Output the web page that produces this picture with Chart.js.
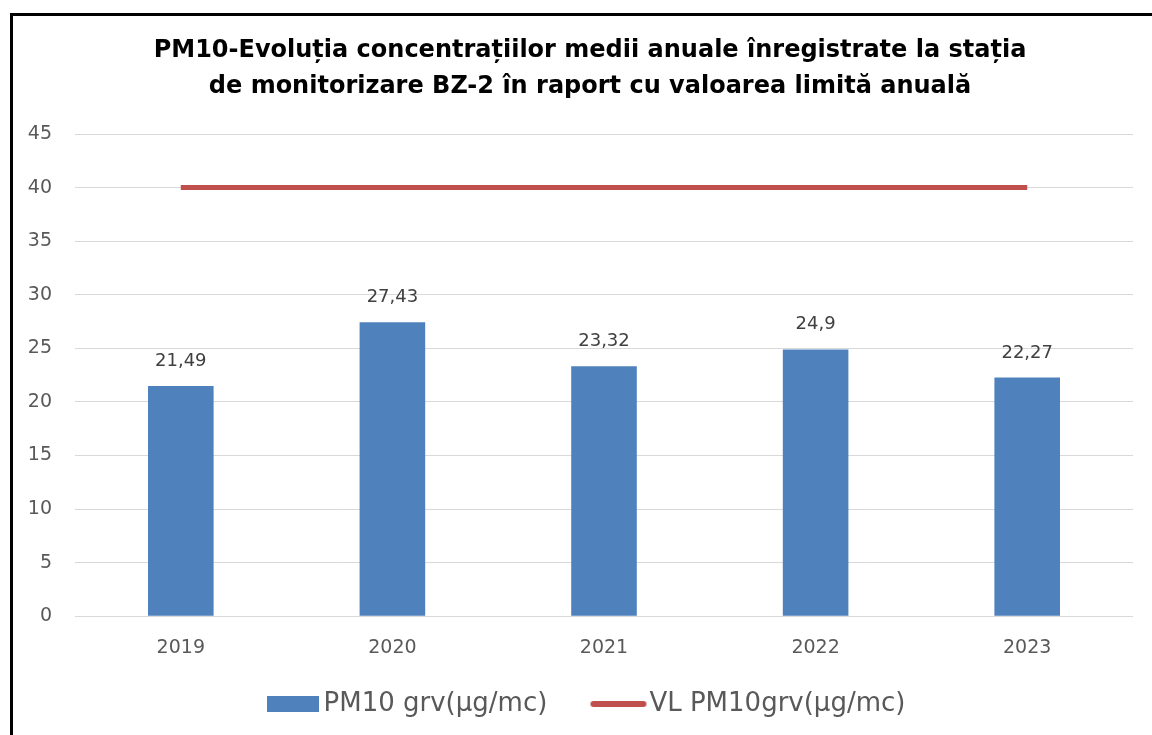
<!DOCTYPE html>
<html>
<head>
<meta charset="utf-8">
<script src="https://cdn.jsdelivr.net/npm/chart.js@4"></script>
<style>
  body { margin: 0; background: #fff; overflow: hidden; }
  #frame { position: absolute; left: 10px; top: 13px; width: 1300px; height: 900px; border: 3px solid #000; }
  #wrap { position: absolute; left: 0; top: 0; width: 1152px; height: 735px; }
</style>
</head>
<body>
<div id="frame"></div>
<div id="wrap"><canvas id="canvas"></canvas></div>
<script>
var years = ['2019', '2020', '2021', '2022', '2023'];
var pm10 = [21.49, 27.43, 23.32, 24.9, 22.27];
var limitValue = [40, 40, 40, 40, 40];
var yTicks = [0, 5, 10, 15, 20, 25, 30, 35, 40, 45];

var fontName = '"DejaVu Sans", sans-serif';
var blue = '#4F81BD';
var red = '#C0504D';

// simboluri pentru legenda (mai late decat caseta, ca textul sa stea aproape)
function makeRect() {
  var c = document.createElement('canvas');
  c.width = 52; c.height = 16;
  var g = c.getContext('2d');
  g.fillStyle = blue;
  g.fillRect(0, 0, 52, 16);
  return c;
}
function makeLine() {
  var c = document.createElement('canvas');
  c.width = 58; c.height = 8;
  var g = c.getContext('2d');
  g.strokeStyle = red;
  g.lineWidth = 6;
  g.lineCap = 'round';
  g.beginPath();
  g.moveTo(4, 4);
  g.lineTo(54, 4);
  g.stroke();
  return c;
}
var rectImg = makeRect();
var lineImg = makeLine();

// etichete deasupra barelor, cu virgula zecimala
var barLabels = {
  id: 'barLabels',
  afterDatasetsDraw: function(chart) {
    var ctx = chart.ctx;
    var meta = chart.getDatasetMeta(1);
    ctx.save();
    ctx.font = '18px ' + fontName;
    ctx.fillStyle = '#404040';
    ctx.textAlign = 'center';
    ctx.textBaseline = 'alphabetic';
    meta.data.forEach(function(bar, i) {
      ctx.fillText(String(pm10[i]).replace('.', ','), bar.x, bar.y - 20);
    });
    ctx.restore();
  }
};

window.onload = function() {
  var ctx = document.getElementById('canvas').getContext('2d');
  window.myChart = new Chart(ctx, {
    type: 'bar',
    data: {
      labels: years,
      datasets: [{
        type: 'line',
        label: 'VL PM10grv(µg/mc)',
        data: limitValue,
        borderColor: red,
        backgroundColor: red,
        borderWidth: 5,
        pointRadius: 0,
        order: 0
      }, {
        label: 'PM10 grv(µg/mc)',
        data: pm10,
        backgroundColor: blue,
        categoryPercentage: 0.31,
        barPercentage: 1,
        order: 1
      }]
    },
    options: {
      responsive: true,
      maintainAspectRatio: false,
      animation: false,
      layout: { padding: { top: 33, right: 0, bottom: 8, left: 28 } },
      plugins: {
        title: {
          display: true,
          text: ['PM10-Evoluția concentrațiilor medii anuale înregistrate la stația', 'de monitorizare BZ-2 în raport cu valoarea limită anuală'],
          color: '#000',
          font: { family: fontName, size: 24, weight: 'bold', lineHeight: 1.5 },
          padding: { top: 0, bottom: 29 }
        },
        legend: {
          position: 'bottom',
          reverse: true,
          labels: {
            color: '#595959',
            font: { family: fontName, size: 26 },
            usePointStyle: true,
            pointStyleWidth: 36,
            boxHeight: 16,
            padding: 20,
            generateLabels: function(chart) {
              var items = Chart.defaults.plugins.legend.labels.generateLabels(chart);
              items.forEach(function(it) {
                var ds = chart.data.datasets[it.datasetIndex];
                if (ds.type === 'line') {
                  it.pointStyle = lineImg;
                } else {
                  it.pointStyle = rectImg;
                  it.text = it.text + '    ';
                }
              });
              return items;
            }
          }
        },
        tooltip: { enabled: false }
      },
      scales: {
        x: {
          grid: { display: false },
          border: { display: false },
          ticks: { color: '#595959', font: { family: fontName, size: 19 }, padding: 12 }
        },
        y: {
          min: 0,
          max: 45,
          afterBuildTicks: function(scale) {
            scale.ticks = yTicks.map(function(v) { return { value: v }; });
          },
          afterFit: function(scale) { scale.width = 47; },
          grid: { color: '#D9D9D9', lineWidth: 1, drawTicks: false },
          border: { display: false },
          ticks: { color: '#595959', font: { family: fontName, size: 19 }, padding: 23 }
        },
        // axa goala in dreapta, doar ca spatiu
        yRight: {
          type: 'linear',
          position: 'right',
          min: 0,
          max: 45,
          afterFit: function(scale) { scale.width = 19; },
          grid: { display: false },
          border: { display: false },
          ticks: { display: false }
        }
      }
    },
    plugins: [barLabels]
  });
};
</script>
</body>
</html>
